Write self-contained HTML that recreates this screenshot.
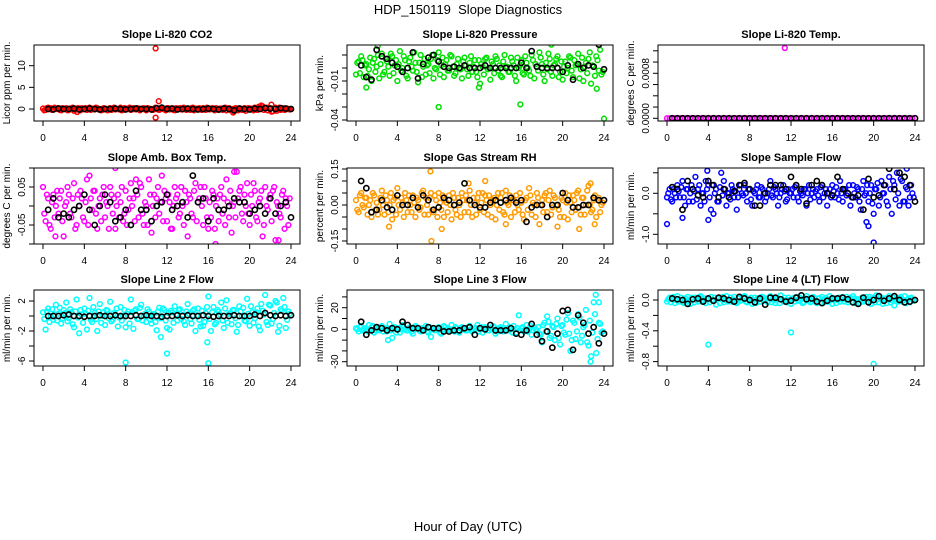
<!DOCTYPE html>
<html><head><meta charset="utf-8"><title>HDP_150119 Slope Diagnostics</title>
<style>
html,body{margin:0;padding:0;background:#fff;}
svg{display:block;font-family:"Liberation Sans",Arial,sans-serif;}
</style></head>
<body>
<svg id="chart" width="936" height="540" viewBox="0 0 936 540" xmlns="http://www.w3.org/2000/svg">
<rect x="0" y="0" width="936" height="540" fill="#fff"/>
<text x="468" y="14" text-anchor="middle" font-size="13" xml:space="preserve">HDP_150119  Slope Diagnostics</text>
<text x="468" y="531" text-anchor="middle" font-size="13">Hour of Day (UTC)</text>
</svg>
<script>
// ---------- data ----------
const xTicks = [0,4,8,12,16,20,24];

const co2Dense = [0.1,-0.2,0.3,0.2,-0.1,0.0,0.2,-0.3,0.1,0.2,-0.2,0.0,-0.4,-0.1,0.1,0.2,0.0,-0.2,0.3,0.1,-0.1,0.2,0.0,-0.2,0.1,-0.3,0.2,0.1,-0.1,0.0,0.3,-0.2,0.1,0.0,-0.2,0.2,-0.1,0.1,0.0,0.2,-0.3,0.1,0.0,-0.1,0.2,-0.2,0.1,0.0,0.2,-0.1,0.1,-0.3,0.0,0.2,-0.1,0.1,0.0,-0.2,0.3,0.1,-0.1,0.0,0.2,-0.2,0.1,0.0,-0.1,0.2,-0.2,0.1,0.0,-0.3,0.2,-0.1,-0.5,0.1,0.0,-0.2,0.2,0.1,-0.1,0.0,0.3,-0.2,0.4,0.6,0.2,-0.3,0.1,-0.5,0.3,0.0,-0.2,0.2,-0.1,0.0];
const co2Dense2 = [-0.3,0.2,0.0,-0.2,0.3,0.1,-0.2,0.2,0.0,-0.3,0.1,0.3,-0.1,0.2,-0.3,0.0,0.2,0.1,-0.2,0.0,0.3,-0.1,-0.3,0.2,0.0,0.1,-0.2,0.3,0.0,-0.1,-0.3,0.2,0.0,0.3,-0.1,0.0,0.2,-0.3,0.1,-0.1,0.2,0.0,-0.2,0.3,-0.1,0.1,0.0,-0.3,0.2,0.1,-0.2,0.2,0.1,-0.1,0.3,-0.2,0.0,0.2,-0.3,0.0,0.2,-0.2,0.0,0.3,-0.1,0.2,-0.3,0.0,0.1,-0.2,0.3,0.1,-0.2,0.0,0.2,-0.3,0.1,0.0,-0.4,0.2,0.1,-0.3,0.0,0.5,0.8,-0.2,0.3,0.1,-0.6,0.2,-0.4,0.3,0.0,-0.2,0.1,-0.1];
const co2OutHours = [10.9,11.2,10.9,22.1,18.4,3.3];
const co2OutValues = [14,1.8,-2,1.0,-0.8,-0.7];
const co2Black = [0,-0.1,0.1,0,0,0.1,-0.1,0,0.1,0,-0.1,0,0,0.1,0,-0.1,0,0.1,0,0,-0.1,0.2,0.3,0,0.1,-0.1,0,0.1,0,-0.1,0,0.1,0,-0.1,0.1,0,-0.3,0.1,0,-0.1,0.1,0,0.2,0.1,0,0.2,0.1,0];

const pressDense = [-0.005,0.005,0.009,-0.007,0.003,-0.001,-0.01,0.007,0.001,-0.008,0.011,-0.003,0.005,-0.006,0.009,0.002,-0.01,0.013,0.0,0.006,-0.008,0.008,-0.002,0.004,-0.011,0.01,0.001,-0.005,0.003,0.007,-0.008,-0.001,0.012,0.002,-0.007,0.006,-0.002,0.009,-0.006,0.003,0.0,-0.008,0.008,-0.001,0.004,-0.003,0.006,-0.007,-0.012,0.001,0.007,-0.001,-0.009,0.003,0.009,-0.002,-0.006,0.005,0.001,-0.003,0.008,0.002,-0.01,0.0,0.006,-0.005,0.004,-0.002,0.01,-0.008,0.001,0.012,0.003,-0.01,-0.001,0.007,-0.006,0.003,0.009,-0.003,-0.009,0.005,0.0,0.008,-0.007,0.002,0.011,-0.001,-0.01,0.004,0.007,-0.012,0.001,0.009,-0.002,-0.005];
const pressDense2 = [0.004,-0.004,0.006,0.002,-0.006,0.008,0.004,-0.003,0.01,0.003,-0.005,0.007,0.001,0.011,-0.004,0.006,0.003,-0.002,0.009,-0.006,0.005,0.001,0.012,-0.003,0.004,-0.007,0.007,0.002,-0.004,0.01,0.0,0.006,-0.005,0.008,0.003,-0.002,0.01,0.001,-0.004,0.007,-0.001,0.005,0.002,-0.006,0.009,0.001,-0.003,0.006,0.003,-0.005,0.008,0.0,0.005,-0.004,0.007,0.002,-0.007,0.01,0.001,-0.003,0.005,-0.006,0.008,0.002,-0.004,0.009,0.0,-0.006,0.006,0.003,-0.002,0.008,-0.005,0.004,0.011,-0.003,0.002,0.007,-0.007,0.005,0.001,-0.004,0.009,-0.002,0.006,0.003,-0.008,0.008,0.001,-0.004,0.012,0.002,-0.006,0.006,0.014,-0.003];
const pressOutHours = [8,15.9,24,2.1,23.9,1,11.9,23.3,18.9];
const pressOutValues = [-0.03,-0.028,-0.039,0.017,0.021,-0.015,-0.015,-0.016,0.018];
const pressBlack = [0.002,-0.007,-0.009,0.014,0.009,0.007,0.004,0.001,-0.003,0.0,0.012,-0.008,0.003,0.008,0.01,0.005,0.001,0.0,0.001,0.0,0.002,0.0,0.0,0.0,0.002,0.0,0.0,0.0,0.0,0.0,0.0,0.004,0.0,0.013,0.001,0.0,0.0,0.0,0.0,-0.003,0.002,-0.009,0.003,0.0,0.002,0.001,0.018,-0.001];

const tempDense = [0,0,0,0,0,0,0,0,0,0,0,0,0,0,0,0,0,0,0,0,0,0,0,0,0,0,0,0,0,0,0,0,0,0,0,0,0,0,0,0,0,0,0,0,0,0,0,0,0,0,0,0,0,0,0,0,0,0,0,0,0,0,0,0,0,0,0,0,0,0,0,0,0,0,0,0,0,0,0,0,0,0,0,0,0,0,0,0,0,0,0,0,0,0,0,0];
const tempDense2 = [];
const tempOutHours = [11.4];
const tempOutValues = [0.00125];
const tempBlack = [0,0,0,0,0,0,0,0,0,0,0,0,0,0,0,0,0,0,0,0,0,0,0,0,0,0,0,0,0,0,0,0,0,0,0,0,0,0,0,0,0,0,0,0,0,0,0,0];

const ambDense = [0.05,-0.04,0.02,-0.06,0.03,0.0,-0.02,0.04,-0.08,0.01,0.03,-0.03,0.06,-0.05,0.0,0.02,-0.04,0.07,0.08,-0.01,0.04,-0.06,0.02,0.03,-0.03,0.0,0.05,-0.02,-0.06,0.03,0.01,-0.04,0.04,-0.01,0.06,0.02,0.07,-0.03,0.05,-0.05,0.0,0.07,-0.07,0.03,0.02,-0.02,0.08,0.04,-0.04,0.01,-0.06,0.05,0.03,-0.02,0.0,0.04,-0.08,0.02,-0.03,0.06,0.01,0.05,-0.05,0.02,-0.06,-0.03,0.03,0.0,-0.04,0.05,0.02,0.07,-0.03,-0.07,0.01,0.09,0.04,-0.02,0.03,0.06,-0.05,0.0,0.04,-0.04,0.02,-0.08,0.05,-0.01,0.03,0.04,-0.09,0.0,-0.03,0.04,0.02,-0.05];
const ambDense2 = [-0.02,0.03,-0.05,0.01,-0.03,0.04,0.02,-0.04,0.0,0.05,-0.02,0.02,-0.06,0.03,0.04,-0.03,0.01,-0.05,0.02,0.04,-0.02,0.0,-0.04,0.05,0.01,-0.06,0.03,0.02,0.0,-0.03,0.05,-0.02,-0.05,0.02,0.0,-0.04,0.03,0.06,-0.02,0.01,-0.05,0.03,0.0,-0.03,0.05,0.01,-0.04,0.02,0.03,-0.06,0.0,0.02,-0.03,0.05,-0.05,0.01,0.03,-0.02,0.04,-0.04,0.02,0.0,0.05,-0.03,0.01,0.04,-0.06,0.02,0.03,-0.02,-0.05,0.01,0.04,0.0,-0.03,0.02,0.05,-0.04,0.0,-0.02,0.03,0.06,-0.03,0.01,0.04,-0.05,0.0,0.02,-0.04,0.05,0.01,-0.02,0.03,-0.06,0.0,0.02];
const ambOutHours = [7,16.7,22.8,18.5,1.2];
const ambOutValues = [0.1,-0.1,-0.09,0.09,-0.08];
const ambBlack = [-0.01,0.02,-0.03,-0.02,-0.03,-0.01,0.0,0.03,-0.01,-0.05,0.0,0.03,0.01,-0.04,-0.03,-0.01,-0.05,0.04,-0.01,-0.01,-0.04,0.0,0.01,0.03,-0.01,0.0,0.01,-0.03,0.08,0.01,0.02,-0.04,0.02,-0.01,-0.01,0.0,0.02,0.01,0.01,-0.02,-0.01,0.0,-0.02,0.02,-0.02,0.0,0.01,-0.03];

const rhDense = [0.02,-0.03,0.05,-0.01,0.03,0.0,-0.05,0.04,0.01,-0.02,0.06,-0.04,0.02,0.0,-0.06,0.03,0.07,-0.02,0.01,0.05,-0.03,0.0,0.04,-0.05,0.02,-0.01,0.06,0.03,-0.04,0.05,-0.03,0.02,0.05,-0.02,-0.05,0.01,0.04,-0.06,0.03,-0.04,0.0,0.05,-0.03,0.02,0.06,-0.05,0.01,0.03,-0.02,0.05,0.04,-0.04,0.0,0.02,-0.06,0.05,0.03,-0.03,0.06,0.0,-0.05,0.02,0.04,-0.02,0.01,-0.06,0.03,0.07,-0.04,0.0,0.05,-0.08,0.02,0.04,-0.03,0.06,-0.01,0.03,0.0,-0.05,0.02,0.05,-0.06,0.01,0.04,-0.02,0.06,-0.04,0.03,0.0,0.08,-0.03,0.02,-0.05,0.03,0.0];
const rhDense2 = [-0.02,0.04,0.0,0.03,-0.04,0.02,0.05,-0.02,-0.04,0.03,0.0,0.04,-0.03,0.05,0.02,-0.04,0.0,0.03,-0.05,0.02,0.04,-0.03,0.01,0.03,-0.02,0.05,-0.04,0.0,0.03,-0.02,0.04,-0.05,0.01,0.04,0.02,-0.03,0.0,0.05,-0.02,0.03,-0.05,0.02,0.04,-0.03,0.0,0.03,-0.04,0.05,0.01,-0.03,0.02,0.04,-0.05,0.03,0.0,-0.02,0.05,-0.04,0.01,0.04,0.02,-0.03,0.0,0.05,-0.04,0.02,-0.02,0.04,0.01,-0.05,0.03,0.0,-0.03,0.05,0.02,-0.04,0.04,0.0,-0.02,0.03,-0.05,0.01,0.04,-0.03,0.02,0.05,-0.01,0.03,-0.04,0.06,0.0,-0.02,0.04,0.02,-0.03,0.01];
const rhOutHours = [7.2,7.3,8.3,12.5,10.9,14.5,19.5,21.6,23.1,22.7,3.2];
const rhOutValues = [0.14,-0.15,-0.1,0.1,0.09,-0.08,-0.09,-0.1,-0.08,0.09,-0.09];
const rhBlack = [0.1,0.07,-0.03,-0.02,0.02,-0.01,-0.02,0.04,0.0,0.0,0.03,-0.01,0.04,0.02,-0.02,-0.01,0.03,0.02,0.0,0.01,0.09,0.02,0.0,-0.01,-0.01,0.01,0.02,0.01,0.02,0.03,0.01,0.02,-0.07,-0.01,0.0,0.0,-0.05,0.0,0.0,0.05,0.02,-0.01,-0.01,0.0,0.0,0.03,0.02,0.02];

const sampDense = [-0.1,0.1,-0.2,0.0,0.2,-0.1,0.3,-0.3,0.1,0.0,-0.2,0.4,0.1,-0.3,0.0,0.3,0.2,-0.4,-0.5,0.1,-0.2,0.5,0.3,-0.3,0.0,0.2,-0.1,-0.4,0.1,0.0,0.2,-0.2,0.1,-0.3,0.0,0.2,-0.1,0.1,-0.2,0.0,0.3,-0.1,0.1,-0.3,0.0,0.2,-0.2,0.1,0.0,-0.1,0.2,-0.2,0.0,0.1,-0.3,0.2,0.0,-0.1,0.1,-0.2,0.2,0.0,-0.3,0.1,0.2,-0.1,0.0,0.3,-0.2,0.1,0.0,-0.3,0.2,-0.1,0.1,-0.4,0.3,0.0,-0.2,0.2,-0.5,0.1,-0.3,0.3,0.0,-0.2,0.4,-0.5,0.2,0.5,-0.3,0.3,-0.2,0.1,-0.1,0.0];
const sampDense2 = [0.0,-0.15,0.1,-0.1,0.05,0.15,-0.1,0.1,-0.2,0.2,0.05,-0.15,0.2,0.0,-0.2,0.1,-0.1,0.2,0.0,-0.2,0.15,-0.05,0.1,0.0,-0.15,0.1,0.05,-0.1,0.2,-0.05,0.0,0.1,-0.15,0.05,0.1,-0.1,0.15,0.0,-0.1,0.1,-0.05,0.15,0.0,-0.1,0.1,0.05,-0.15,0.0,0.1,0.15,-0.1,0.05,-0.05,0.1,0.0,-0.15,0.1,0.05,-0.05,0.15,-0.1,0.1,0.0,-0.1,0.05,0.15,-0.15,0.0,0.1,-0.05,0.2,-0.1,0.0,0.15,-0.2,0.1,-0.05,0.2,0.0,-0.25,0.1,0.25,-0.1,0.0,0.2,-0.3,0.1,0.3,-0.15,0.0,0.35,-0.2,0.15,-0.3,0.2,-0.1];
const sampOutHours = [0,20,19.5,19.3,1.5,4,3.9,23.2];
const sampOutValues = [-0.75,-1.2,-0.8,-0.7,-0.6,-0.65,0.55,0.6];
const sampBlack = [0.15,0.1,-0.4,0.3,0.1,-0.05,-0.1,0.3,0.2,-0.1,0.1,-0.1,0.05,0.2,0.25,0.1,-0.3,-0.3,0.0,0.2,0.2,0.2,0.1,0.4,0.2,0.1,-0.25,0.2,0.3,0.2,0.0,-0.05,0.4,0.1,0.0,-0.1,-0.05,-0.4,0.35,-0.1,-0.05,0.2,0.6,0.1,0.5,0.4,0.2,-0.2];

const l2Dense = [0.5,-1.8,1.0,0.0,-0.5,1.5,0.3,-1.0,0.8,1.8,-0.3,0.5,-1.5,2.2,-2.3,0.2,1.0,-1.8,2.4,-0.8,0.4,-2.0,1.6,0.0,-1.2,0.7,1.9,-0.5,0.2,-1.4,1.2,0.0,-1.5,0.6,2.2,-1.7,0.9,-0.4,1.5,0.0,-0.8,0.6,-1.0,0.3,-1.9,1.1,-0.2,0.8,-1.6,-1.8,0.5,1.3,-0.6,0.9,0.1,-1.2,1.6,-0.4,0.7,-2.0,1.0,-1.4,-1.3,0.4,2.6,-2.0,1.2,-0.9,0.6,1.8,-1.6,2.1,0.3,-1.1,0.8,-2.1,1.3,0.0,-0.6,2.3,-1.3,0.5,-0.3,1.0,-1.9,0.7,2.8,-1.2,1.4,-0.4,2.0,-2.1,0.9,2.4,-1.6,0.6];
const l2Dense2 = [-0.4,0.6,-0.8,0.9,0.2,-0.6,1.1,-0.3,0.4,-0.7,0.9,-1.1,0.6,-0.2,0.8,-0.9,0.3,0.7,-0.5,1.2,-0.4,0.6,-0.9,0.5,0.8,-0.3,-0.7,0.4,1.0,-0.2,-0.6,0.8,0.3,-1.0,0.5,0.7,-0.4,1.1,-0.6,0.3,0.9,-0.5,0.2,-0.8,0.6,-0.3,1.0,-0.6,0.4,0.7,-0.9,0.2,0.8,-0.4,-0.7,0.6,0.3,-1.0,0.9,0.1,-0.5,0.7,-0.8,1.2,-0.4,0.5,-1.1,0.8,0.2,-0.6,1.0,-0.9,0.4,0.8,-0.3,-1.2,0.6,1.1,-0.7,0.3,1.3,-0.9,0.5,-1.4,1.6,0.2,-0.8,1.5,-1.0,0.4,1.8,-1.3,0.7,1.2,-0.5,0.3];
const l2OutHours = [8,16,12,15.9,11.4];
const l2OutValues = [-6.2,-6.3,-5.0,-3.5,-2.8];
const l2Black = [0,0,0,0.1,0.2,0,0,-0.1,0,0,0.1,0,0,0.1,0,0,0,0.1,0,0.1,0,0,-0.1,0,0,0.1,0,0.1,0,0,0.1,0,-0.1,0,0,0,0.1,0,0,0,0.2,0,0.4,0.1,0,0.1,0,0.1];

const l3Dense = [1,-2,3,0,-1,4,2,-3,1,-1,3,0,-2,5,-8,2,1,-3,4,0,-1,2,-4,3,0,-2,1,3,-3,-7,1,0,2,-4,3,-1,0,4,-2,1,-3,2,0,-1,3,-2,1,4,0,-3,2,-1,1,3,-4,0,2,-2,5,-1,0,3,-3,13,1,-2,4,0,-5,2,-1,-4,-12,6,12,-8,3,-10,10,-14,4,-5,15,-20,8,-9,14,-12,2,18,-15,-25,25,-22,6,-3];
const l3Dense2 = [0,2,-1,1,-2,0,3,-1,0,2,-2,1,0,-1,2,-3,1,0,2,-1,1,-2,0,2,-1,1,0,-2,2,0,-1,1,-3,0,2,1,-1,0,2,-2,1,0,-1,2,0,-1,1,-2,2,0,1,-1,0,2,-2,1,0,1,-1,2,-3,0,1,-1,2,0,-2,3,-1,0,2,-5,4,-2,7,-6,2,5,-8,3,-3,9,-4,-10,6,-2,11,-6,4,-12,8,-3,14,-9,5,-2];
const l3OutHours = [23.2,22.7,23.5,3.1];
const l3OutValues = [32,-30,25,-10];
const l3Black = [7,-5,-1,2,1,-1,1,0,7,4,1,1,-1,2,1,1,-2,-2,-1,-1,1,2,-5,1,0,4,-1,-1,-1,1,-4,-5,-1,5,-5,-11,-2,-17,-4,17,18,-19,13,6,-4,2,-13,-4];

const l4Dense = [-0.02,0.03,0.01,-0.04,0.05,0.0,-0.03,0.02,0.04,-0.05,0.01,0.03,-0.02,0.05,0.0,-0.04,0.02,0.04,-0.01,-0.06,0.03,0.01,-0.03,0.05,0.0,-0.02,0.04,-0.04,0.02,0.0,0.05,-0.03,0.01,-0.05,0.03,0.02,-0.02,0.04,0.0,-0.03,0.05,0.01,-0.04,0.02,0.06,-0.02,0.0,0.03,-0.05,0.02,0.04,-0.01,0.01,-0.03,0.05,0.0,-0.02,0.03,-0.04,0.02,0.04,-0.03,0.01,0.05,-0.05,0.02,0.0,-0.02,0.04,0.01,-0.03,0.03,0.05,-0.04,0.0,0.02,-0.02,0.04,0.01,-0.05,0.03,0.06,-0.03,0.01,0.02,-0.04,0.05,0.0,-0.07,0.03,0.02,-0.02,0.05,0.0,-0.03,0.01];
const l4Dense2 = [0.01,-0.03,0.04,0.0,-0.02,0.03,-0.04,0.01,-0.01,0.03,-0.03,0.0,0.04,-0.02,0.02,0.01,-0.03,0.0,0.03,0.02,-0.04,0.04,0.0,-0.02,0.03,0.01,-0.03,0.02,-0.01,0.04,-0.02,0.01,0.03,0.0,-0.04,0.02,0.04,-0.01,0.02,0.03,-0.03,0.0,0.02,-0.04,0.01,0.03,-0.03,0.0,0.02,-0.02,0.0,0.03,-0.04,0.02,0.01,-0.03,0.04,0.0,0.02,-0.03,0.01,0.03,-0.02,0.0,0.02,-0.04,0.03,0.01,-0.02,0.04,0.0,-0.03,0.02,0.01,-0.04,0.03,0.0,-0.02,0.04,0.02,-0.03,0.01,0.04,-0.05,0.02,0.0,-0.03,0.03,0.01,-0.02,0.04,0.0,-0.04,0.02,0.03,-0.01];
const l4OutHours = [4,12,20];
const l4OutValues = [-0.58,-0.42,-0.83];
const l4Black = [0.02,0.01,0.0,-0.05,0.01,0.02,-0.02,0.02,-0.01,0.03,0.02,0.0,-0.02,0.04,0.02,0.0,-0.03,0.02,-0.06,0.03,0.03,0.01,-0.02,-0.01,0.03,0.06,0.01,0.02,-0.02,-0.04,-0.01,0.02,0.02,0.03,0.01,-0.03,-0.05,0.03,-0.03,0.0,0.05,-0.01,0.02,0.05,0.0,-0.03,-0.02,0.0];

// ---------- rendering ----------
const NS = "http://www.w3.org/2000/svg";
const svg = document.getElementById("chart");
const colLeft = [34, 347, 658];
const rowTop = [45, 168, 290];
const BOX_W = 266, BOX_H = 76;

function mk(tag, attrs, parent) {
  const e = document.createElementNS(NS, tag);
  for (const k in attrs) e.setAttribute(k, attrs[k]);
  (parent || svg).appendChild(e);
  return e;
}

const panels = [
  {key:"co2", col:0,row:0,title:"Slope Li-820 CO2",ylab:"Licor ppm per min.",color:"#ff0000",zeroPx:109,k:4.33,
   ticks:[0,5,10],labels:["0","5","10"],dense:co2Dense,dense2:co2Dense2,oh:co2OutHours,ov:co2OutValues,black:co2Black},
  {key:"pressure", col:1,row:0,title:"Slope Li-820 Pressure",ylab:"kPa per min.",color:"#00e000",zeroPx:68,k:1300,
   ticks:[0.01,0,-0.01,-0.02,-0.03,-0.04],labels:["","","-0.01","","","-0.04"],dense:pressDense,dense2:pressDense2,oh:pressOutHours,ov:pressOutValues,black:pressBlack},
  {key:"li820-temp", col:2,row:0,title:"Slope Li-820 Temp.",ylab:"degrees C per min.",color:"#ff00ff",zeroPx:118.3,k:56250,
   ticks:[0,0.0002,0.0004,0.0006,0.0008,0.001,0.0012],labels:["0.0000","","","","0.0008","",""],dense:tempDense,dense2:tempDense2,oh:tempOutHours,ov:tempOutValues,black:tempBlack},
  {key:"amb-box-temp", col:0,row:1,title:"Slope Amb. Box Temp.",ylab:"degrees C per min.",color:"#ff00ff",zeroPx:206,k:380,
   ticks:[0.1,0.05,0,-0.05,-0.1],labels:["","0.05","","-0.05",""],dense:ambDense,dense2:ambDense2,oh:ambOutHours,ov:ambOutValues,black:ambBlack},
  {key:"gas-stream-rh", col:1,row:1,title:"Slope Gas Stream RH",ylab:"percent per min.",color:"#ff9a00",zeroPx:205,k:240,
   ticks:[0.15,0.1,0.05,0,-0.05,-0.1,-0.15],labels:["0.15","","","0.00","","","-0.15"],dense:rhDense,dense2:rhDense2,oh:rhOutHours,ov:rhOutValues,black:rhBlack},
  {key:"sample-flow", col:2,row:1,title:"Slope Sample Flow",ylab:"ml/min per min.",color:"#0000ff",zeroPx:193.3,k:41,
   ticks:[0.5,0,-0.5,-1.0],labels:["","0.0","","-1.0"],dense:sampDense,dense2:sampDense2,oh:sampOutHours,ov:sampOutValues,black:sampBlack},
  {key:"line2-flow", col:0,row:2,title:"Slope Line 2 Flow",ylab:"ml/min per min.",color:"#00ffff",zeroPx:316,k:7.5,
   ticks:[2,0,-2,-4,-6],labels:["2","","-2","","-6"],dense:l2Dense,dense2:l2Dense2,oh:l2OutHours,ov:l2OutValues,black:l2Black},
  {key:"line3-flow", col:1,row:2,title:"Slope Line 3 Flow",ylab:"ml/min per min.",color:"#00ffff",zeroPx:329.3,k:1.08,
   ticks:[30,20,10,0,-10,-20,-30],labels:["","20","","0","","","-30"],dense:l3Dense,dense2:l3Dense2,oh:l3OutHours,ov:l3OutValues,black:l3Black},
  {key:"line4-flow", col:2,row:2,title:"Slope Line 4 (LT) Flow",ylab:"ml/min per min.",color:"#00ffff",zeroPx:300,k:77,
   ticks:[0,-0.2,-0.4,-0.6,-0.8],labels:["0.0","","-0.4","","-0.8"],dense:l4Dense,dense2:l4Dense2,oh:l4OutHours,ov:l4OutValues,black:l4Black}
];

panels.forEach(p => {
  const L = colLeft[p.col], T = rowTop[p.row], B = T + BOX_H;
  const xs = h => L + 9 + h * (248 / 24);
  const ys = v => p.zeroPx - v * p.k;
  const g = mk("g", {});
  
  

  const t = mk("text", {x: L + BOX_W/2, y: T - 7, "text-anchor":"middle", "font-size":"11", "font-weight":"bold"}, g);
  
  
  t.textContent = p.title;

  const yl = mk("text", {x: 0, y: 0, "text-anchor":"middle", "font-size":"10",
    transform:`translate(${L-24},${T+BOX_H/2}) rotate(-90)`}, g);
  
  
  yl.textContent = p.ylab;

  xTicks.forEach(h => {
    const tk = mk("line", {x1: xs(h), x2: xs(h), y1: B, y2: B + 5, stroke:"#000", "stroke-width":"1"}, g);
    
    
    const tl = mk("text", {x: xs(h), y: B + 20, "text-anchor":"middle", "font-size":"10"}, g);
    
    
    tl.textContent = h;
  });
  p.ticks.forEach((v, i) => {
    const y = ys(v);
    const tk = mk("line", {x1: L - 5, x2: L, y1: y, y2: y, stroke:"#000", "stroke-width":"1"}, g);
    
    
    if (p.labels[i]) {
      const tl = mk("text", {x: 0, y: 0, "text-anchor":"middle", "font-size":"10",
        transform:`translate(${L-9},${y}) rotate(-90)`}, g);
      
      
      tl.textContent = p.labels[i];
    }
  });

  const clip = "clip-" + p.key;
  const cp = mk("clipPath", {id: clip}, g);
  mk("rect", {x: L, y: T, width: BOX_W, height: BOX_H}, cp);
  const pts = mk("g", {"clip-path": `url(#${clip})`}, g);
  
  

  p.dense.forEach((v, i) => {
    const c = mk("circle", {cx: xs(i * 0.25), cy: ys(v), r: 2.4, fill:"none", stroke:p.color, "stroke-width":"1.5"}, pts);
    
    
  });
  p.dense2.forEach((v, i) => {
    const c = mk("circle", {cx: xs(0.125 + i * 0.25), cy: ys(v), r: 2.4, fill:"none", stroke:p.color, "stroke-width":"1.5"}, pts);
    
    
  });
  p.oh.forEach((h, i) => {
    const c = mk("circle", {cx: xs(h), cy: ys(p.ov[i]), r: 2.4, fill:"none", stroke:p.color, "stroke-width":"1.5"}, pts);
    
    
  });
  p.black.forEach((v, i) => {
    const c = mk("circle", {cx: xs((i + 1) * 0.5), cy: ys(v), r: 2.6, fill:"none", stroke:"#000", "stroke-width":"1.6"}, pts);
    
    
  });

  const box = mk("rect", {x: L, y: T, width: BOX_W, height: BOX_H, fill:"none", stroke:"#000", "stroke-width":"1"}, g);
  
  
});
</script>
</body></html>
